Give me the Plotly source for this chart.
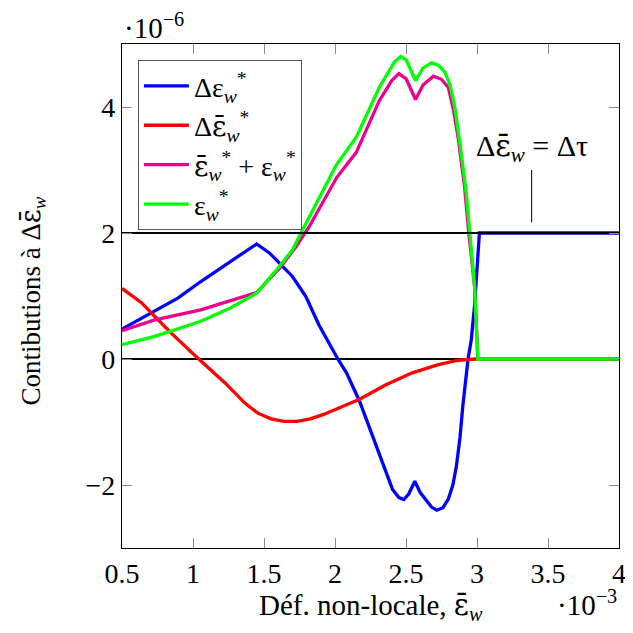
import plotly.graph_objects as go

# ---- data (x in 1e-3, y in 1e-6) ----
blue_x = [0.5, 0.893, 1.055, 1.263, 1.448, 1.54, 1.70, 1.795, 1.887, 2.02, 2.081, 2.173, 2.289,
          2.405, 2.45, 2.485, 2.52, 2.562, 2.60, 2.636, 2.68, 2.717, 2.76, 2.797, 2.83, 2.855,
          2.88, 2.90, 2.937, 2.96, 2.983, 3.017, 4.0]
blue_y = [0.475, 0.966, 1.23, 1.545, 1.826, 1.68, 1.31, 0.99, 0.54, 0.0, -0.22, -0.67, -1.38,
          -2.07, -2.20, -2.23, -2.14, -1.94, -2.12, -2.23, -2.35, -2.40, -2.36, -2.23, -2.0, -1.70,
          -1.25, -0.75, 0.0, 0.31, 0.85, 2.0, 2.0]

red_x = [0.5, 0.639, 0.731, 0.847, 1.04, 1.226, 1.365, 1.457, 1.55, 1.642, 1.734, 1.826, 1.92,
         2.173, 2.359, 2.544, 2.728, 2.867, 2.995, 4.0]
red_y = [1.12, 0.89, 0.675, 0.41, 0.0, -0.38, -0.70, -0.86, -0.95, -0.99, -0.99, -0.95, -0.88,
         -0.64, -0.41, -0.22, -0.09, -0.02, 0.0, 0.0]

mag_x = [0.5, 0.731, 1.055, 1.448, 1.61, 1.725, 1.818, 2.012, 2.15, 2.312, 2.40, 2.45, 2.50,
         2.567, 2.62, 2.693, 2.75, 2.798, 2.835, 2.867, 2.913, 2.943, 2.983, 3.006, 4.0]
mag_y = [0.45, 0.62, 0.78, 1.055, 1.44, 1.78, 2.10, 2.88, 3.28, 4.10, 4.42, 4.53, 4.45,
         4.12, 4.35, 4.49, 4.44, 4.31, 3.95, 3.52, 2.72, 1.98, 1.15, 0.0, 0.0]

grn_x = [0.5, 0.731, 1.055, 1.263, 1.448, 1.587, 1.70, 1.783, 2.012, 2.15, 2.312, 2.42, 2.463,
         2.50, 2.567, 2.62, 2.682, 2.73, 2.775, 2.81, 2.844, 2.87, 2.89, 2.925, 2.948, 2.983,
         3.006, 4.0]
grn_y = [0.226, 0.36, 0.60, 0.81, 1.045, 1.41, 1.73, 2.10, 3.09, 3.52, 4.31, 4.72, 4.80,
         4.75, 4.42, 4.62, 4.70, 4.66, 4.55, 4.35, 3.99, 3.6, 3.25, 2.62, 1.98, 1.15,
         0.0, 0.0]

ref_x = [0.5, 4.0]
ref0_y = [0.0, 0.0]
ref2_y = [2.0, 2.0]

pin_x = 3.385
pin_y = [2.17, 3.0]
pin_label_y = 3.36

x_ticks = [0.5, 1, 1.5, 2, 2.5, 3, 3.5, 4]
x_ticktext = ["0.5", "1", "1.5", "2", "2.5", "3", "3.5", "4"]
y_ticks = [-2, 0, 2, 4]

# epsilon with macron, drawn in a font that places the combining mark properly
EPSB = "<span style=\"font-family:'DejaVu Serif'\">ε̄</span>"
labels = [
    "Δε<sub><i>w</i></sub><sup>*</sup>",
    "Δ" + EPSB + "<sub><i>w</i></sub><sup>*</sup>",
    EPSB + "<sub><i>w</i></sub><sup>*</sup> + ε<sub><i>w</i></sub><sup>*</sup>",
    "ε<sub><i>w</i></sub><sup>*</sup>",
]
colors = ["#0000ff", "#ff0000", "#ec008c", "#00ff00"]

FONT = "Liberation Serif"
FS_TICK = 28
FS_TXT = 28

fig = go.Figure()
fig.add_trace(go.Scatter(x=ref_x, y=ref0_y, mode="lines", line=dict(color="black", width=2),
                         showlegend=False, hoverinfo="skip"))
for xs, ys, lab, col in zip([blue_x, red_x, mag_x, grn_x], [blue_y, red_y, mag_y, grn_y], labels, colors):
    fig.add_trace(go.Scatter(x=xs, y=ys, mode="lines", name=lab,
                             line=dict(color=col, width=3.3), showlegend=True))
fig.add_trace(go.Scatter(x=ref_x, y=ref2_y, mode="lines", line=dict(color="black", width=2),
                         showlegend=False, hoverinfo="skip"))
fig.add_trace(go.Scatter(x=[pin_x, pin_x], y=pin_y, mode="lines", line=dict(color="black", width=1),
                         showlegend=False, hoverinfo="skip"))

fig.add_annotation(x=pin_x, y=pin_label_y, xref="x", yref="y",
                   text="Δ" + EPSB + "<sub><i>w</i></sub> = Δτ",
                   showarrow=False, font=dict(family=FONT, size=30, color="black"))

# axis titles and scale labels
fig.add_annotation(x=0.5, y=-0.117, xref="paper", yref="paper",
                   text="Déf. non-locale, " + EPSB + "<sub><i>w</i></sub>",
                   showarrow=False, xanchor="center", yanchor="middle",
                   font=dict(family=FONT, size=29, color="black"))
fig.add_annotation(x=1.0, y=-0.11, xref="paper", yref="paper", text="·10<sup>−3</sup>",
                   showarrow=False, xanchor="right", yanchor="middle",
                   font=dict(family=FONT, size=29, color="black"))
fig.add_annotation(x=0.0, y=1.036, xref="paper", yref="paper", text="·10<sup>−6</sup>",
                   showarrow=False, xanchor="left", yanchor="middle",
                   font=dict(family=FONT, size=29, color="black"))
fig.add_annotation(x=-0.18, y=0.49, xref="paper", yref="paper",
                   text="Contibutions à Δ" + EPSB + "<sub><i>w</i></sub>", textangle=-90,
                   showarrow=False, xanchor="center", yanchor="middle",
                   font=dict(family=FONT, size=27, color="black"))

axis_common = dict(showgrid=False, zeroline=False, showline=True, linecolor="black", linewidth=1.3,
                   mirror="ticks", ticks="inside", ticklen=10, tickcolor="#888888", tickwidth=1,
                   ticklabeloverflow="allow",
                   tickfont=dict(family=FONT, size=FS_TICK, color="black"))
fig.update_xaxes(range=[0.5, 4.0], tickvals=x_ticks, ticktext=x_ticktext, **axis_common)
fig.update_yaxes(range=[-3, 5], tickvals=y_ticks, **axis_common)

# the page body has an 8px margin, so the figure is 625 px and margins are reduced by 8
fig.update_layout(
    width=625, height=625,
    margin=dict(l=114, r=7, t=36, b=85),
    paper_bgcolor="white", plot_bgcolor="white",
    font=dict(family=FONT, size=FS_TXT, color="black"),
    legend=dict(x=0.032, y=0.968, xanchor="left", yanchor="top",
                bordercolor="#555555", borderwidth=1, bgcolor="white",
                itemwidth=45,
                font=dict(family=FONT, size=FS_TXT), tracegroupgap=0),
)

fig.write_html("out.html")
